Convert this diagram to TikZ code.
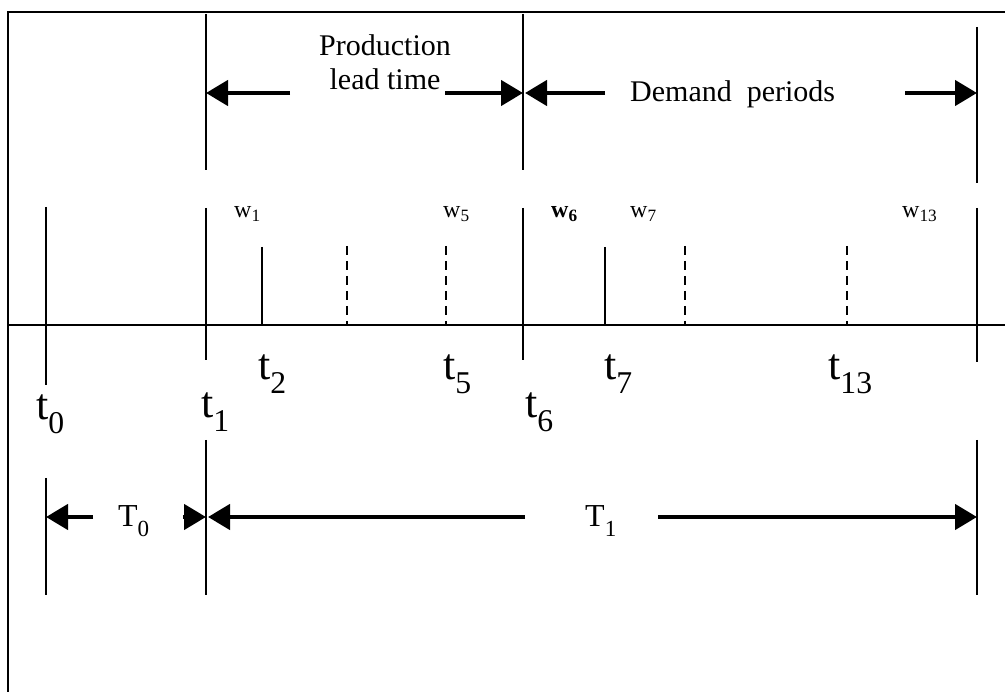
\documentclass[tikz,border=0pt]{standalone}
\usepackage{fontspec}
\setmainfont{Liberation Serif}
\usepackage{graphicx}
\usetikzlibrary{arrows.meta}
\tikzset{
  frame/.style={line width=2.5pt},
  bar/.style={line width=2.2pt},
  axis/.style={line width=1.6pt},
  solidtick/.style={line width=2.4pt},
  dashtick/.style={line width=2.4pt,dash pattern=on 9pt off 6pt},
  arr/.style={-{Triangle[length=22pt,width=25pt]},line width=4.5pt},
  lbl/.style={font=\fontsize{30}{34}\selectfont,inner sep=0pt},
  tlbl/.style={font=\fontsize{44}{46}\selectfont,inner sep=0pt,anchor=base west},
  wlbl/.style={font=\fontsize{24}{26}\selectfont,inner sep=0pt,anchor=base west},
  plbl/.style={font=\fontsize{32}{34}\selectfont,inner sep=0pt,anchor=base west}
}
\newcommand{\lowsub}[3][0.3em]{#2\raisebox{-#1}{\scalebox{0.72}{#3}}}

\begin{document}
\begin{tikzpicture}[x=1pt,y=-1pt]
\useasboundingbox (0,0) rectangle (1005,692);
\draw[frame] (8,692) -- (8,12) -- (1005,12);
% upper band: lead time and demand periods
\draw[bar] (206,14) -- (206,170);
\draw[bar] (523,14) -- (523,170);
\draw[bar] (977,27) -- (977,183);
\node[lbl,align=center,anchor=base] (plt) at (385,90) {Production\\lead time};
\node[lbl,anchor=base west] (dem) at (630,102) {Demand\ \ periods};
\coordinate (pl) at (206,93); \coordinate (pr) at (523,93);
\coordinate (dl) at (525,93); \coordinate (dr) at (977,93);
\draw[arr] (290,93) -- (pl); \draw[arr] (445,93) -- (pr);
\draw[arr] (605,93) -- (dl); \draw[arr] (905,93) -- (dr);
% time axis
\draw[axis] (8,325) -- (1005,325);
\draw[bar] (46,207) -- (46,385);
\draw[bar] (206,208) -- (206,360);
\draw[bar] (523,208) -- (523,360);
\draw[bar] (977,208) -- (977,362);
\draw[solidtick] (262,247) -- (262,325);
\draw[solidtick] (605,247) -- (605,325);
\foreach \x in {347,446,685,847}
  \draw[dashtick] (\x,246) -- (\x,325);
\node[wlbl] (w1) at (234,218) {\lowsub[0.15em]{w}{1}};
\node[wlbl] (w5) at (443,218) {\lowsub[0.15em]{w}{5}};
\node[wlbl] (w6) at (551,218) {\textbf{\lowsub[0.15em]{w}{6}}};
\node[wlbl] (w7) at (630,218) {\lowsub[0.15em]{w}{7}};
\node[wlbl] (w13) at (902,218) {\lowsub[0.15em]{w}{13}};
\node[tlbl] (t0) at (36,420) {\lowsub{t}{0}};
\node[tlbl] (t1) at (201,418) {\lowsub{t}{1}};
\node[tlbl] (t2) at (258,380) {\lowsub{t}{2}};
\node[tlbl] (t5) at (443,380) {\lowsub{t}{5}};
\node[tlbl] (t6) at (525,418) {\lowsub{t}{6}};
\node[tlbl] (t7) at (604,380) {\lowsub{t}{7}};
\node[tlbl] (t13) at (828,380) {\lowsub{t}{13}};
% lower band: T0 and T1
\draw[bar] (46,478) -- (46,595);
\draw[bar] (206,440) -- (206,595);
\draw[bar] (977,440) -- (977,595);
\node[plbl] (T0) at (118,527) {\lowsub{T}{0}};
\node[plbl] (T1) at (585,527) {\lowsub{T}{1}};
\coordinate (al) at (46,517); \coordinate (am) at (206,517);
\coordinate (bl) at (208,517); \coordinate (br) at (977,517);
\draw[arr] (93,517) -- (al); \draw[arr] (183,517) -- (am);
\draw[arr] (525,517) -- (bl); \draw[arr] (658,517) -- (br);
\end{tikzpicture}
\end{document}
